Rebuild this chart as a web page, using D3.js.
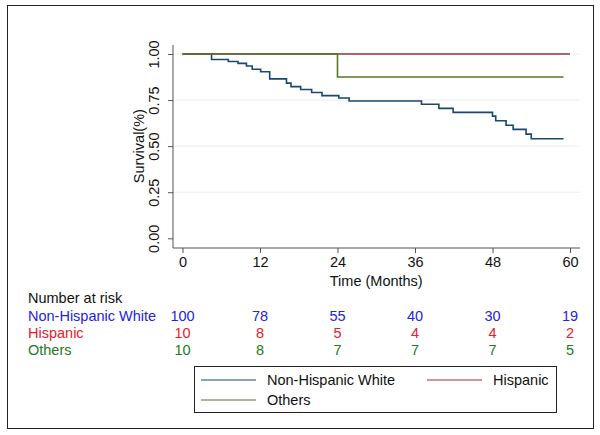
<!DOCTYPE html>
<html>
<head>
<meta charset="utf-8">
<script src="https://cdn.jsdelivr.net/npm/d3@7"></script>
<style>
  html, body { margin: 0; padding: 0; background: #fff; }
  svg { display: block; font-family: "Liberation Sans", Arial, Helvetica, sans-serif; }
</style>
</head>
<body>
<svg id="chart" width="600" height="435"></svg>
<script>
// ---- data ----
const seriesNames = ["Non-Hispanic White", "Hispanic", "Others"];
const nhwTimes = [0, 4.5, 7.1, 8.6, 9.9, 10.8, 12.1, 13.5, 16.1, 16.8, 18.3, 20.0, 21.6, 24.2, 25.8, 37.0, 39.7, 41.9, 48.0, 48.5, 50.1, 51.2, 53.2, 54.0, 59.0];
const nhwSurv  = [1.0, 0.970, 0.959, 0.949, 0.935, 0.917, 0.904, 0.865, 0.842, 0.823, 0.807, 0.791, 0.774, 0.761, 0.745, 0.727, 0.705, 0.683, 0.663, 0.638, 0.613, 0.591, 0.565, 0.540, 0.540];
const hispTimes = [0, 60];
const hispSurv  = [1.0, 1.0];
const othTimes = [0, 24, 59];
const othSurv  = [1.0, 0.875, 0.875];
const xTicks = [0, 12, 24, 36, 48, 60];
const yTicks = [0, 0.25, 0.5, 0.75, 1];
const riskNhw  = [100, 78, 55, 40, 30, 19];
const riskHisp = [10, 8, 5, 4, 4, 2];
const riskOth  = [10, 8, 7, 7, 7, 5];
const lineColors = ["#1a476f", "#90353b", "#55752f"];
const riskColors = ["#2323e0", "#e3202b", "#227a22"];

// ---- layout ----
const svg = d3.select("#chart");
const x = d3.scaleLinear().domain([0, 60]).range([182.5, 570]);
const y = d3.scaleLinear().domain([0, 1]).range([238.3, 54]);
const axisX0 = 173, axisX1 = 580, axisY = 248, axisTop = 45;
const FS = 14.5;
const FT = 14.5;

// outer frame
svg.append("rect").attr("x", 7.5).attr("y", 5.5).attr("width", 586).attr("height", 423)
  .attr("fill", "#fff").attr("stroke", "#222").attr("stroke-width", 1);

// gridlines
svg.append("g").selectAll("line").data(yTicks.filter(d => d > 0)).join("line")
  .attr("x1", axisX0).attr("x2", axisX1)
  .attr("y1", d => y(d)).attr("y2", d => y(d))
  .attr("stroke", "#e6eef1").attr("stroke-width", 1);

// y axis
const yAxis = d3.axisLeft(y).tickValues(yTicks).tickFormat(d3.format(".2f")).tickSize(5).tickSizeOuter(0);
const gy = svg.append("g").attr("transform", `translate(${axisX0},0)`).call(yAxis);
gy.select(".domain").attr("d", `M0,${axisTop}V${axisY}`).attr("stroke", "#555");
gy.selectAll(".tick line").attr("stroke", "#555");
gy.selectAll(".tick text")
  .attr("font-size", FT).attr("fill", "#111")
  .attr("font-family", "Liberation Sans, Arial, sans-serif")
  .attr("text-anchor", "middle")
  .attr("transform", "rotate(-90)").attr("x", 0).attr("y", -14).attr("dy", 0);

// x axis
const xAxis = d3.axisBottom(x).tickValues(xTicks).tickSize(5).tickSizeOuter(0);
const gx = svg.append("g").attr("transform", `translate(0,${axisY})`).call(xAxis);
gx.select(".domain").attr("d", `M${axisX0},0H${axisX1}`).attr("stroke", "#555");
gx.selectAll(".tick line").attr("stroke", "#555");
gx.selectAll(".tick text").attr("font-size", FT).attr("fill", "#111").attr("y", 9)
  .attr("font-family", "Liberation Sans, Arial, sans-serif");

// axis titles
svg.append("text").attr("x", x(30)).attr("y", 286).attr("text-anchor", "middle")
  .attr("font-size", FT).attr("fill", "#111").text("Time (Months)");
svg.append("text").attr("transform", `translate(144,${y(0.5)}) rotate(-90)`)
  .attr("text-anchor", "middle").attr("font-size", FT).attr("fill", "#111").text("Survival(%)");

// curves
const line = d3.line().x(d => x(d[0])).y(d => y(d[1])).curve(d3.curveStepAfter);
const curves = [
  d3.zip(nhwTimes, nhwSurv),
  d3.zip(hispTimes, hispSurv),
  d3.zip(othTimes, othSurv)
];
svg.append("g").selectAll("path").data(curves).join("path")
  .attr("d", d => line(d)).attr("fill", "none")
  .attr("stroke", (d, i) => lineColors[i]).attr("stroke-width", 1.6);

// number at risk
svg.append("text").attr("x", 28).attr("y", 303).attr("font-size", FS).attr("fill", "#111").text("Number at risk");
const riskRows = [riskNhw, riskHisp, riskOth];
const rowY = [321, 338, 355];
riskRows.forEach((row, i) => {
  svg.append("text").attr("x", 28).attr("y", rowY[i]).attr("font-size", FS)
    .attr("fill", riskColors[i]).text(seriesNames[i]);
  svg.append("g").selectAll("text").data(row).join("text")
    .attr("x", (d, j) => x(xTicks[j])).attr("y", rowY[i])
    .attr("text-anchor", "middle").attr("font-size", FS).attr("fill", riskColors[i])
    .text(d => d);
});

// legend
svg.append("rect").attr("x", 194.5).attr("y", 366.5).attr("width", 362).attr("height", 46)
  .attr("fill", "#fff").attr("stroke", "#222").attr("stroke-width", 1);
const legendPos = [[201, 380], [427, 380], [201, 400]];
seriesNames.forEach((name, i) => {
  const [lx, ly] = legendPos[i];
  svg.append("line").attr("x1", lx).attr("x2", lx + 55).attr("y1", ly).attr("y2", ly)
    .attr("stroke", lineColors[i]).attr("stroke-width", 1.2);
  svg.append("text").attr("x", lx + 66).attr("y", ly + 5).attr("font-size", FS)
    .attr("fill", "#111").text(name);
});
</script>
</body>
</html>
